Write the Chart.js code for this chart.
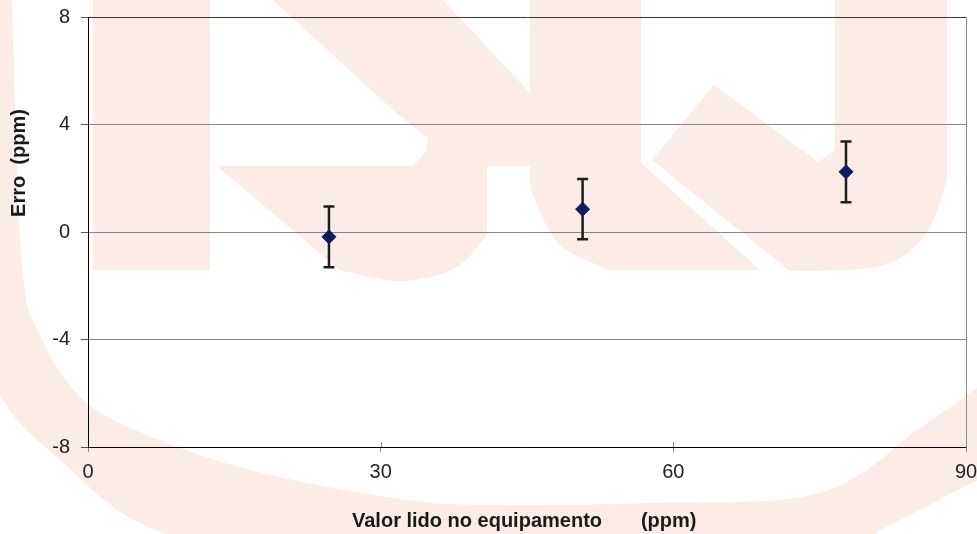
<!DOCTYPE html>
<html>
<head>
<meta charset="utf-8">
<script src="https://cdn.jsdelivr.net/npm/chart.js@4.4.0/dist/chart.umd.min.js"></script>
<style>
  html, body { margin: 0; padding: 0; background: #fff; }
  #wrap { width: 977px; height: 534px; }
</style>
</head>
<body>
<div id="wrap"><canvas id="erroChart" width="977" height="534"></canvas></div>
<script>
// values
const xValues = [24.7, 50.7, 77.7];
const yValues = [-0.18, 0.85, 2.24];
const yErrors = [1.13, 1.12, 1.13];
const xTicks = [0, 30, 60, 90];
const yTicks = [-8, -4, 0, 4, 8];
const xTitle = 'Valor lido no equipamento       (ppm)';
const yTitle = 'Erro  (ppm)';

const FONT = "'Liberation Sans', Arial, sans-serif";

// smooth path through points (catmull-rom)
function smoothTo(ctx, pts) {
  for (let i = 0; i < pts.length - 1; i++) {
    const p0 = pts[i - 1] || pts[i], p1 = pts[i], p2 = pts[i + 1], p3 = pts[i + 2] || p2;
    ctx.bezierCurveTo(
      p1[0] + (p2[0] - p0[0]) / 6, p1[1] + (p2[1] - p0[1]) / 6,
      p2[0] - (p3[0] - p1[0]) / 6, p2[1] - (p3[1] - p1[1]) / 6,
      p2[0], p2[1]);
  }
}
function poly(ctx, pts) {
  ctx.beginPath();
  ctx.moveTo(pts[0][0], pts[0][1]);
  for (let i = 1; i < pts.length; i++) ctx.lineTo(pts[i][0], pts[i][1]);
  ctx.closePath();
  ctx.fill();
}

// faint logo behind the chart
const watermark = {
  id: 'watermark',
  beforeDraw(chart) {
    const ctx = chart.ctx;
    ctx.save();
    ctx.fillStyle = '#ffffff';
    ctx.fillRect(0, 0, chart.width, chart.height);
    ctx.fillStyle = '#fbece8';
    // swoosh ring
    ctx.beginPath();
    ctx.moveTo(-20, 0);
    ctx.lineTo(12, 0);
    smoothTo(ctx, [[12, 0], [22, 264], [40, 335], [80, 397], [140, 432], [250, 470], [400, 499], [490, 505], [650, 503], [820, 493], [920, 428], [977, 388]]);
    ctx.lineTo(990, 388);
    ctx.lineTo(990, 475);
    smoothTo(ctx, [[977, 478], [900, 520], [820, 550], [600, 575], [400, 570], [167, 534], [60, 460], [0, 394], [-20, 300]]);
    ctx.closePath();
    ctx.fill();
    // left bar
    ctx.fillRect(93, 0, 117, 270);
    // upper diagonal stroke
    poly(ctx, [[273, 0], [443, 0], [530, 93], [530, 166], [413, 166], [426, 152], [428, 138], [393, 110]]);
    // lower-left bowl
    ctx.beginPath();
    ctx.moveTo(217, 166);
    ctx.lineTo(487, 166);
    ctx.lineTo(487, 235);
    smoothTo(ctx, [[487, 235], [455, 268], [400, 281], [340, 270]]);
    ctx.closePath();
    ctx.fill();
    // middle bar with bowl
    ctx.beginPath();
    ctx.moveTo(530, 0);
    ctx.lineTo(641, 0);
    ctx.lineTo(641, 163);
    ctx.lineTo(760, 270);
    ctx.lineTo(610, 270);
    smoothTo(ctx, [[610, 270], [560, 245], [535, 200], [530, 180]]);
    ctx.closePath();
    ctx.fill();
    // right hook with diagonal
    ctx.beginPath();
    ctx.moveTo(714, 85);
    ctx.lineTo(818, 162);
    ctx.lineTo(835, 150);
    ctx.lineTo(835, 0);
    ctx.lineTo(947, 0);
    ctx.lineTo(947, 180);
    smoothTo(ctx, [[947, 180], [925, 235], [880, 266], [790, 271]]);
    ctx.lineTo(652, 160);
    ctx.closePath();
    ctx.fill();
    ctx.restore();
  }
};

// vertical error bars under the markers
const errorBars = {
  id: 'errorBars',
  beforeDatasetsDraw(chart) {
    const ctx = chart.ctx;
    const ys = chart.scales.y;
    const meta = chart.getDatasetMeta(0);
    ctx.save();
    ctx.strokeStyle = '#1e1e1e';
    ctx.lineWidth = 2.5;
    meta.data.forEach((pt, i) => {
      const top = ys.getPixelForValue(yValues[i] + yErrors[i]);
      const bot = ys.getPixelForValue(yValues[i] - yErrors[i]);
      ctx.beginPath();
      ctx.moveTo(pt.x, top);
      ctx.lineTo(pt.x, bot);
      ctx.moveTo(pt.x - 5.5, top);
      ctx.lineTo(pt.x + 5.5, top);
      ctx.moveTo(pt.x - 5.5, bot);
      ctx.lineTo(pt.x + 5.5, bot);
      ctx.stroke();
    });
    ctx.restore();
  }
};

// right border, inner x tick marks and axis titles
const frame = {
  id: 'frame',
  afterDraw(chart) {
    const ctx = chart.ctx;
    const a = chart.chartArea;
    const xs = chart.scales.x;
    ctx.save();
    ctx.strokeStyle = '#8a8a8a';
    ctx.lineWidth = 1;
    ctx.beginPath();
    ctx.moveTo(a.right + 0.5, a.top);
    ctx.lineTo(a.right + 0.5, a.bottom + 5);
    xTicks.slice(1, -1).forEach(v => {
      const px = Math.round(xs.getPixelForValue(v)) + 0.5;
      ctx.moveTo(px, a.bottom - 5);
      ctx.lineTo(px, a.bottom);
    });
    ctx.stroke();

    ctx.fillStyle = '#1a1a1a';
    ctx.font = 'bold 20px ' + FONT;
    ctx.textAlign = 'left';
    ctx.textBaseline = 'middle';
    ctx.fillText(xTitle, 352, 521);
    ctx.translate(19, 163);
    ctx.rotate(-Math.PI / 2);
    ctx.textAlign = 'center';
    ctx.fillText(yTitle, 0, 0);
    ctx.restore();
  }
};

new Chart(document.getElementById('erroChart'), {
  type: 'scatter',
  data: {
    datasets: [{
      data: xValues.map((x, i) => ({ x: x, y: yValues[i] })),
      pointStyle: 'rectRot',
      pointRadius: 7,
      pointHoverRadius: 7,
      backgroundColor: '#101c5e',
      borderColor: '#101c5e',
      borderWidth: 1
    }]
  },
  options: {
    responsive: false,
    animation: false,
    events: [],
    layout: { padding: { top: 17, right: 11, left: 0, bottom: 0 } },
    plugins: {
      legend: { display: false },
      tooltip: { enabled: false }
    },
    scales: {
      x: {
        type: 'linear',
        min: xTicks[0],
        max: xTicks[xTicks.length - 1],
        afterBuildTicks: s => { s.ticks = xTicks.map(v => ({ value: v })); },
        afterFit: s => { s.height = 87; s.paddingLeft = 0; s.paddingRight = 0; },
        border: { display: true, color: '#000', width: 1 },
        grid: { drawOnChartArea: false, drawTicks: true, tickLength: 5, tickColor: '#8a8a8a' },
        ticks: { color: '#222', padding: 8, maxRotation: 0, font: { family: FONT, size: 20 } }
      },
      y: {
        type: 'linear',
        min: yTicks[0],
        max: yTicks[yTicks.length - 1],
        afterBuildTicks: s => { s.ticks = yTicks.map(v => ({ value: v })); },
        afterFit: s => { s.width = 88; s.paddingTop = 0; s.paddingBottom = 0; },
        border: { display: true, color: '#000', width: 1 },
        grid: {
          color: c => c.tick && c.tick.value === yTicks[yTicks.length - 1] ? '#333' :
                     (c.tick && c.tick.value === yTicks[0] ? '#000' : '#858585'),
          lineWidth: 1,
          tickLength: 7,
          tickColor: '#555'
        },
        ticks: { color: '#222', padding: 11, font: { family: FONT, size: 20 } }
      }
    }
  },
  plugins: [watermark, errorBars, frame]
});
</script>
</body>
</html>
